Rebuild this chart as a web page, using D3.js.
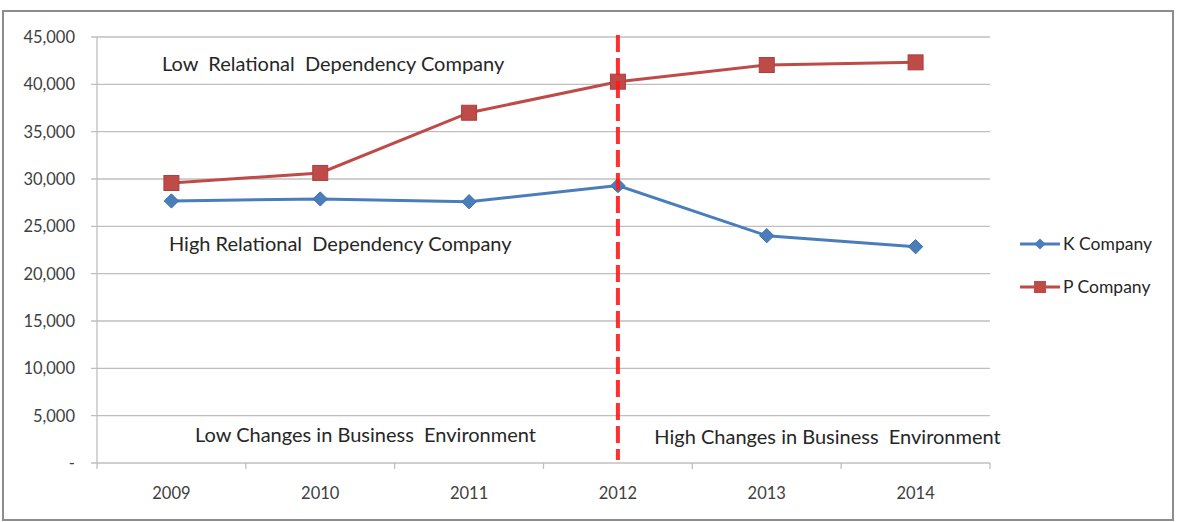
<!DOCTYPE html>
<html><head><meta charset="utf-8">
<script src="https://cdn.jsdelivr.net/npm/d3@7"></script>
<style>body{margin:0;background:#fff;} text{font-family:Lato,"Open Sans",sans-serif;white-space:pre;}</style>
</head><body><svg id="c" width="1193" height="522"></svg>
<script>
const years = ["2009","2010","2011","2012","2013","2014"];
const kCompany = [27680, 27890, 27600, 29300, 24010, 22850];
const pCompany = [29580, 30640, 37000, 40280, 42040, 42320];
const yTicks = [0,5000,10000,15000,20000,25000,30000,35000,40000,45000];
const seriesNames = ["K Company","P Company"];
const dividerYear = "2012";
const annotations = [
  {text:"Low  Relational  Dependency Company", year:"2009", value:42000},
  {text:"High Relational  Dependency Company", year:"2009", value:23000},
  {text:"Low Changes in Business  Environment", year:"2009", value:2900},
  {text:"High Changes in Business  Environment", year:"2013", value:2600}
];

const svg = d3.select("#c");
svg.append("rect").attr("x",3).attr("y",11).attr("width",1170).attr("height",509)
  .attr("fill","#fff").attr("stroke","#8c8c8c").attr("stroke-width",2);

const L=97,R=990,T=37,B=463;
const x = d3.scaleBand().domain(years).range([L,R]);
const y = d3.scaleLinear().domain([0,45000]).range([B,T]);

svg.append("g").selectAll("line").data(yTicks).join("line")
  .attr("x1",L-6).attr("x2",R).attr("y1",d=>y(d)).attr("y2",d=>y(d))
  .attr("stroke","#bfbfbf").attr("stroke-width",1.3);

svg.append("line").attr("x1",L).attr("x2",L).attr("y1",T).attr("y2",B)
  .attr("stroke","#bfbfbf").attr("stroke-width",1.3);

const bnds = years.map(d=>x(d)).concat([R]);
svg.append("g").selectAll("line").data(bnds).join("line")
  .attr("x1",d=>d).attr("x2",d=>d).attr("y1",B).attr("y2",B+6)
  .attr("stroke","#bfbfbf").attr("stroke-width",1.3);

const fmt = d3.format(",");
svg.append("g").selectAll("text").data(yTicks).join("text")
  .attr("x",75).attr("y",d=>y(d)+6).attr("text-anchor","end")
  .attr("font-size",16.5).attr("fill","#404040")
  .text(d=>d===0?"-":fmt(d));

svg.append("g").selectAll("text").data(years).join("text")
  .attr("x",d=>x(d)+x.bandwidth()/2).attr("y",499).attr("text-anchor","middle")
  .attr("font-size",16.5).attr("fill","#404040").text(d=>d);

svg.append("g").selectAll("text").data(annotations).join("text")
  .attr("x",d=>d.year==="2009"?x(d.year)+ (d.text.startsWith("Low C")?98:(d.text.startsWith("Low")?65:72)) : x(d.year)-38)
  .attr("y",d=>y(d.value)+6).attr("font-size",20).attr("fill","#262626")
  .text(d=>d.text);

const dx = x(dividerYear)+x.bandwidth()/2;
const cx = d=>x(d)+x.bandwidth()/2;
const line = d3.line().x((d,i)=>cx(years[i])).y(d=>y(d));
const colors = {K:"#4a7ebb", P:"#be4b48"};

svg.append("path").datum(kCompany).attr("d",line).attr("fill","none")
  .attr("stroke",colors.K).attr("stroke-width",3);
svg.append("path").datum(pCompany).attr("d",line).attr("fill","none")
  .attr("stroke",colors.P).attr("stroke-width",3);

const diamond = d3.symbol().type(d3.symbolDiamond2).size(130);
svg.append("g").selectAll("path").data(kCompany).join("path")
  .attr("transform",(d,i)=>`translate(${cx(years[i])},${y(d)})`)
  .attr("d",diamond).attr("fill",colors.K).attr("stroke","#3d6ea8").attr("stroke-width",1);
svg.append("g").selectAll("rect").data(pCompany).join("rect")
  .attr("x",(d,i)=>cx(years[i])-7.5).attr("y",d=>y(d)-7.5).attr("width",15).attr("height",15)
  .attr("fill",colors.P).attr("stroke","#a9403d").attr("stroke-width",1);

svg.append("line").attr("x1",dx).attr("x2",dx).attr("y1",T-2).attr("y2",B-3)
  .attr("stroke","#ff1a1a").attr("stroke-width",4).attr("stroke-dasharray","17,6").attr("opacity",0.9);

const lg = svg.append("g");
[{n:seriesNames[0],c:colors.K,s:"d",yy:244},{n:seriesNames[1],c:colors.P,s:"s",yy:287}].forEach(o=>{
  lg.append("line").attr("x1",1020).attr("x2",1060).attr("y1",o.yy).attr("y2",o.yy).attr("stroke",o.c).attr("stroke-width",3);
  if(o.s==="d") lg.append("path").attr("transform",`translate(1040,${o.yy})`).attr("d",d3.symbol().type(d3.symbolDiamond2).size(80)).attr("fill",o.c);
  else lg.append("rect").attr("x",1034).attr("y",o.yy-6).attr("width",12).attr("height",12).attr("fill",o.c);
  lg.append("text").attr("x",1063).attr("y",o.yy+6).attr("font-size",17.5).attr("fill","#262626").text(o.n);
});
</script></body></html>
